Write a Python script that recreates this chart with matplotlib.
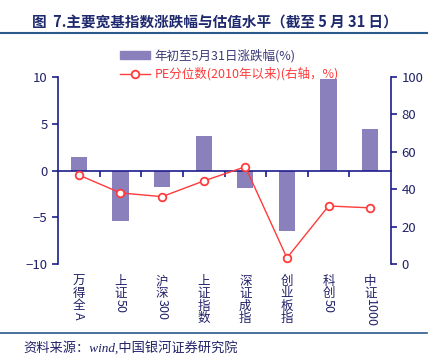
import re
import matplotlib
matplotlib.use("Agg")
import matplotlib.pyplot as plt
from matplotlib.lines import Line2D
from matplotlib.patches import Patch
from matplotlib.transforms import offset_copy, blended_transform_factory

plt.rcParams['font.family'] = ['Noto Sans CJK SC', 'DejaVu Sans']

categories = ["万得全A", "上证50", "沪深300", "上证指数", "深证成指", "创业板指", "科创50", "中证1000"]
ytd_change = [1.4, -5.4, -1.8, 3.7, -1.9, -6.5, 9.8, 4.4]
pe_pct = [47.6, 38.0, 36.0, 44.4, 52.0, 3.2, 31.0, 30.0]

bar_label = "年初至5月31日涨跌幅(%)"
line_label = "PE分位数(2010年以来)(右轴，%)"
title = "图  7.主要宽基指数涨跌幅与估值水平（截至 5 月 31 日）"
source = "资料来源：wind,中国银河证券研究院"

navy = "#1c1c8c"
text_navy = "#22226a"
bar_color = "#8a80bb"
red = "#ff3b3b"
rule_color = "#2b5a8c"

fig = plt.figure(figsize=(4.33, 3.62), dpi=100)
ax = fig.add_axes([0.134, 0.271, 0.769, 0.516])
ax2 = ax.twinx()

x = list(range(len(categories)))
ax.bar(x, ytd_change, width=0.39, color=bar_color, zorder=2)
ax2.plot(x, pe_pct, color=red, lw=1.0, marker='o', ms=5.5,
         mfc='white', mec=red, mew=1.3, zorder=3)

ax.set_xlim(-0.5, len(categories) - 0.5)
ax.set_ylim(-10, 10)
ax.set_yticks([-10, -5, 0, 5, 10])
ax2.set_ylim(0, 100)
ax2.set_yticks([0, 20, 40, 60, 80, 100])

for a in (ax, ax2):
    a.spines['top'].set_visible(False)
    for s in a.spines.values():
        s.set_color(navy)
        s.set_linewidth(1.2)
    a.tick_params(axis='y', colors=navy, labelcolor=text_navy, labelsize=9.5,
                  direction='out', length=4, width=1.2)
ax.spines['right'].set_visible(False)
ax2.spines['left'].set_visible(False)
ax2.spines['bottom'].set_visible(False)
ax.spines['bottom'].set_position(('data', 0))

ax.set_xticks([k + 0.5 for k in range(len(categories) - 1)])
ax.tick_params(axis='x', colors=navy, direction='out', length=4, width=1.2,
               labelbottom=False)

# vertical category labels: CJK upright, latin runs rotated
renderer = fig.canvas.get_renderer()
trans = blended_transform_factory(ax.transData, ax.transAxes)
for i, lab in enumerate(categories):
    off = 11
    for piece in re.findall(r'[A-Za-z0-9]+|.', lab):
        t = offset_copy(trans, fig=fig, x=0, y=-off, units='dots')
        if piece.isascii():
            txt = ax.text(i, 0, piece, transform=t, rotation=-90, ha='center',
                          va='top', fontsize=9, color=text_navy)
            off += txt.get_window_extent(renderer).height
        else:
            ax.text(i, 0, piece, transform=t, ha='center', va='top',
                    fontsize=9, color=text_navy)
            off += 12.3

handles = [Patch(color=bar_color),
           Line2D([], [], color=red, lw=1.0, marker='o', ms=5.5,
                  mfc='white', mec=red, mew=1.3)]
leg = fig.legend(handles, [bar_label, line_label], loc='upper left',
                 bbox_to_anchor=(0.265, 0.878), frameon=False, fontsize=9,
                 handlelength=2.4, handleheight=0.6, handletextpad=0.4,
                 labelspacing=0.38, borderaxespad=0)
leg.get_texts()[0].set_color("#3a3a78")
leg.get_texts()[1].set_color(red)

fig.text(0.075, 0.938, title, fontsize=10.5, fontweight='bold', color="#1f2a6e",
         va='center', ha='left')
fig.add_artist(Line2D([0.0, 0.985], [0.91, 0.91], transform=fig.transFigure,
                      color=rule_color, lw=1.5))
fig.add_artist(Line2D([0.0, 0.985], [0.08, 0.08], transform=fig.transFigure,
                      color=rule_color, lw=1.2))
fig.text(0.055, 0.04, source, fontsize=9.5, style='italic', color=text_navy,
         family=['Liberation Serif', 'Noto Sans CJK SC'], va='center', ha='left')

fig.savefig("out.png", dpi=100)
